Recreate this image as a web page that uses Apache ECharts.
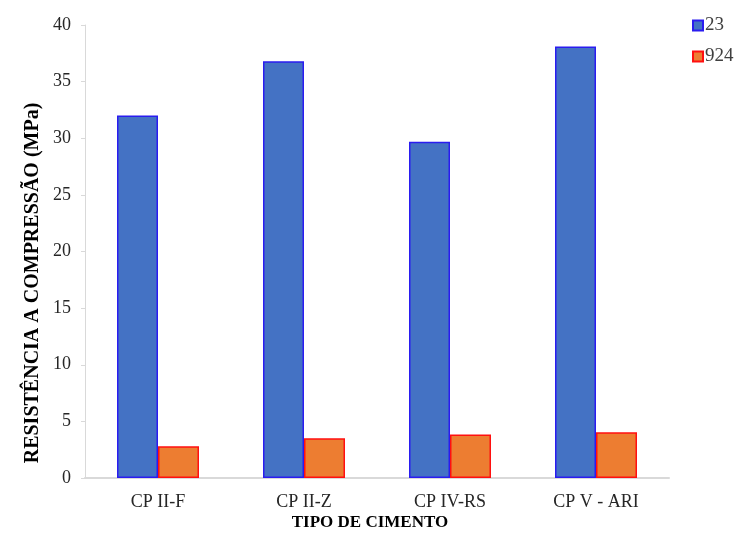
<!DOCTYPE html>
<html>
<head>
<meta charset="utf-8">
<script src="https://cdn.jsdelivr.net/npm/echarts@6/dist/echarts.min.js"></script>
<style>
  html, body { margin: 0; padding: 0; background: #fff; }
  #chart { width: 734px; height: 536px; }
</style>
</head>
<body>
<div id="chart"></div>
<script>
// dados
const categorias = ['CP II-F', 'CP II-Z', 'CP IV-RS', 'CP V - ARI'];
const serie23 = [32.0, 36.8, 29.7, 38.1];
const serie924 = [2.8, 3.5, 3.85, 4.05];
const nomes = ['23', '924'];

const fonte = '"Liberation Serif", "Times New Roman", serif';

const chart = echarts.init(document.getElementById('chart'));
chart.clear();

const optionData = {
    animation: false,
    textStyle: { fontFamily: fonte },
    legend: {
        orient: 'vertical',
        left: 692,
        top: 16,
        padding: 0,
        icon: 'rect',
        itemWidth: 10,
        itemHeight: 10,
        itemGap: 12,
        textStyle: { fontFamily: fonte, fontSize: 19, color: '#404040', padding: [0, 0, 0, -3] },
        data: nomes
    },
    grid: {
        left: 85,
        right: 65,
        top: 25,
        bottom: 58
    },
    // títulos dos eixos (posição um pouco fora do centro, como no original)
    graphic: [
        {
            type: 'text',
            x: 370,
            y: 523,
            style: {
                text: 'TIPO DE CIMENTO',
                font: 'bold 17px ' + fonte,
                fill: '#000',
                align: 'center',
                verticalAlign: 'middle'
            }
        },
        {
            type: 'text',
            x: 33,
            y: 283,
            rotation: Math.PI / 2,
            style: {
                text: 'RESISTÊNCIA A COMPRESSÃO (MPa)',
                font: 'bold 20px ' + fonte,
                fill: '#000',
                align: 'center',
                verticalAlign: 'middle'
            }
        }
    ],
    xAxis: {
        type: 'category',
        data: categorias,
        axisLine: { lineStyle: { color: '#d9d9d9', width: 2 } },
        axisTick: { show: false },
        axisLabel: { fontFamily: fonte, fontSize: 18, color: '#262626', margin: 15 }
    },
    yAxis: {
        type: 'value',
        min: 0,
        max: 40,
        interval: 5,
        axisLine: { show: true, lineStyle: { color: '#d9d9d9' } },
        axisTick: { show: true, length: 4, lineStyle: { color: '#d9d9d9' } },
        splitLine: { show: false },
        axisLabel: { fontFamily: fonte, fontSize: 18, color: '#262626', margin: 14 }
    },
    series: [
        {
            name: nomes[0],
            type: 'bar',
            data: serie23,
            barWidth: 41,
            barGap: '0%',
            itemStyle: { color: '#4472c4', borderColor: '#2a1cf0', borderWidth: 1.5 }
        },
        {
            name: nomes[1],
            type: 'bar',
            data: serie924,
            barWidth: 41,
            barGap: '0%',
            itemStyle: { color: '#ed7d31', borderColor: '#ff1010', borderWidth: 1.5 }
        }
    ]
};

chart.setOption(optionData);
</script>
</body>
</html>
